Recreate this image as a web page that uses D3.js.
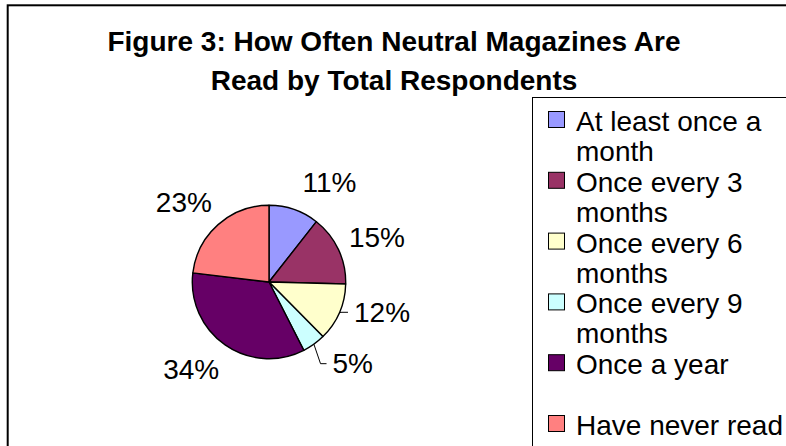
<!DOCTYPE html>
<html>
<head>
<meta charset="utf-8">
<script src="https://cdn.jsdelivr.net/npm/d3@7"></script>
<style>
  html, body { margin: 0; padding: 0; background: #fff; }
  svg { display: block; }
  text { font-family: "Liberation Sans", Arial, sans-serif; fill: #000; }
</style>
</head>
<body>
<svg id="chart" width="786" height="446"></svg>
<script>
// ---- data ----
const title = "Figure 3: How Often Neutral Magazines Are Read by Total Respondents";
const categories = [
  "At least once a month",
  "Once every 3 months",
  "Once every 6 months",
  "Once every 9 months",
  "Once a year",
  "Have never read"
];
const values = [10.6, 14.8, 12.2, 4.9, 34.4, 23.1];
const colors = ["#9999FF", "#993366", "#FFFFCC", "#CCFFFF", "#660066", "#FF8080"];
// manual label placement (angular nudge in degrees) and leader-line flags, as in the source chart
const labelNudge = [12, 2.5, -8.4, -9.9, 6.8, -5.1];
const showLeader = [false, false, true, true, false, false];

// ---- layout ----
const W = 786, H = 446;
const cx = 269, cy = 282, R = 76.7, labelR = 117;
const svg = d3.select("#chart");

svg.append("rect").attr("width", W).attr("height", H).attr("fill", "#fff");
// chart border (extends beyond right/bottom of the picture)
svg.append("rect")
  .attr("x", 7.7).attr("y", 5.3)
  .attr("width", W + 20).attr("height", H + 20)
  .attr("fill", "none").attr("stroke", "#000").attr("stroke-width", 2);

// word-wrap helper
function wrapLines(textSel, str, maxW) {
  const words = str.split(" ");
  const lines = [];
  let cur = "";
  const probe = textSel.append("tspan");
  words.forEach(w => {
    const test = cur ? cur + " " + w : w;
    probe.text(test);
    if (probe.node().getComputedTextLength() > maxW && cur) {
      lines.push(cur);
      cur = w;
    } else cur = test;
  });
  if (cur) lines.push(cur);
  probe.remove();
  return lines;
}

// title
const titleText = svg.append("text")
  .attr("text-anchor", "middle")
  .style("font-size", "28px").style("font-weight", "bold");
const tLines = wrapLines(titleText, title, 600);
tLines.forEach((ln, i) => {
  titleText.append("tspan").attr("x", 394).attr("y", 51 + i * 39).text(ln);
});

// pie
const pie = d3.pie().value(d => d).sort(null);
const arcs = pie(values);
const arc = d3.arc().innerRadius(0).outerRadius(R);
const g = svg.append("g").attr("transform", `translate(${cx},${cy})`);
g.selectAll("path.slice")
  .data(arcs)
  .join("path")
  .attr("class", "slice")
  .attr("d", arc)
  .attr("fill", (d, i) => colors[i])
  .attr("stroke", "#000")
  .attr("stroke-width", 1.4)
  .attr("stroke-linejoin", "round");

// labels
const fmt = d3.format(".0%");
const labelFont = 28;
arcs.forEach((d, i) => {
  const mid = (d.startAngle + d.endAngle) / 2;
  const a = mid + labelNudge[i] * Math.PI / 180;
  const lx = Math.sin(a) * labelR;
  const ly = -Math.cos(a) * labelR;
  const t = g.append("text")
    .attr("x", lx).attr("y", ly).attr("dy", "0.35em")
    .attr("text-anchor", "middle")
    .style("font-size", labelFont + "px")
    .text(fmt(d.value / 100));
  if (showLeader[i]) {
    const tw = t.node().getComputedTextLength();
    const left = lx - tw / 2;
    const ex = Math.sin(mid) * R, ey = -Math.cos(mid) * R;
    g.append("path")
      .attr("d", d3.line()([[ex, ey], [left - 12, ly], [left - 6, ly]]))
      .attr("fill", "none").attr("stroke", "#000").attr("stroke-width", 1);
  }
});

// legend
const legX = 532.5, legY = 97.5;
svg.append("rect")
  .attr("x", legX).attr("y", legY)
  .attr("width", W).attr("height", H)
  .attr("fill", "#fff").attr("stroke", "#000").attr("stroke-width", 1);

const entryPitch = 60.8, firstBase = 131, lineGap = 30;
categories.forEach((c, i) => {
  const base = firstBase + entryPitch * i;
  svg.append("rect")
    .attr("x", 548.5).attr("y", base - 19.5)
    .attr("width", 16).attr("height", 16)
    .attr("fill", colors[i]).attr("stroke", "#000").attr("stroke-width", 1);
  const t = svg.append("text").style("font-size", "28px");
  const lines = wrapLines(t, c, 210);
  lines.forEach((ln, j) => {
    t.append("tspan").attr("x", 576).attr("y", base + j * lineGap).text(ln);
  });
});
</script>
</body>
</html>
